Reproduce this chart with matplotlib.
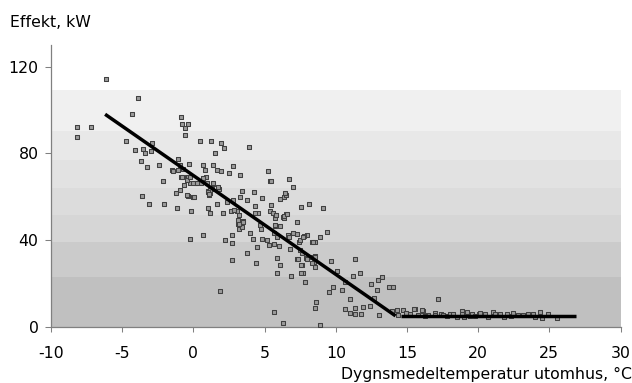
import matplotlib
matplotlib.use("Agg")
import matplotlib.pyplot as plt

# ---- data -------------------------------------------------------------
temp = [
    -8.2, -7.17, -8.2, -6.12, -3.87, -4.29,
    -4.73, -2.91, -4.12, -3.52, -3.42, -3.0, -3.68, -3.26, -2.42,
    -3.61, -3.10, -2.09, -2.16,
    -0.89, -0.80, -0.38, -0.57, -0.57,
    -1.08, -0.92, -0.33, -1.5, -1.4, -0.75, -0.43, -0.85, -1.08,
    -0.66, -0.94, -1.22,
    -1.15, -0.38, -0.05, -0.15, -0.24, 0.70,
    0.46, 1.24, 1.96, 1.52, 2.15, 3.90,
    0.70, 1.40, 0.81, 1.68, 1.96,
    -0.80, -0.40, 0.88,
    2.80, 3.27, 2.48,
    0.10, 0.51, 0.98, 0.65, 0.23, -0.24,
    1.40, 1.31, 1.78, 1.0, 1.2, 1.1,
    0.05, -0.43,
    -0.47, -0.24, -0.05, 0.23, 0.70, 0.93, 1.40, 1.75, 1.17, 1.0, 1.12,
    1.05, 1.14, 1.63, 1.87, 2.06, 2.24, 2.34, 2.64, 2.71, 2.73, 2.71,
    3.06, 3.18, 3.11, 3.22, 3.41, 3.46, 3.27, 3.43, 3.74, 3.74, 3.98, 4.21,
    4.26, 4.30, 4.37, 4.49, 4.51, 4.30, 4.70, 4.73, 4.80, 4.85, 5.15, 5.33,
    5.40, 5.38, 5.43, 5.57, 5.66, 5.66, 5.71, 5.75, 5.85, 5.89, 5.82, 6.0,
    6.08, 6.08, 6.36, 6.50, 6.08, 6.27, 6.27, 6.5, 6.64, 6.78, 6.85, 6.97,
    6.97, 7.25, 7.25, 7.30, 7.40, 7.58, 7.63, 7.72, 7.82, 7.91, 7.96, 8.10,
    8.33, 8.56, 8.19, 8.47, 8.56, 8.52, 8.61, 8.9, 8.89,
    5.24, 5.43, 6.69, 6.46, 2.80, 2.85, 6.34, 7.77,
    3.13, 3.18, 3.48, 5.61, 5.80, 5.73, 5.66, 5.85, 6.36, 6.55, 6.74,
    7.02, 7.49, 7.72, 8.38, 7.63, 7.96, 8.54, 8.33, 7.32, 7.58, 7.58,
    9.12, 9.36, 7.49, 8.54,
    9.64, 10.11, 11.38, 11.70, 11.18, 10.62, 9.83, 9.55, 10.44, 11.0,
    11.37, 11.93, 12.4, 10.67, 11.0, 11.37, 11.79, 12.5, 12.98, 13.22,
    12.87, 13.06, 13.76, 14.04, 12.68, 13.93, 14.28,
    14.70, 15.07, 15.2, 15.54, 16.1, 16.5, 16.94, 17.17, 17.37, 17.55,
    17.8, 18.02, 18.25, 18.5, 18.84, 18.9, 19.0, 19.19, 19.4, 19.54,
    19.8, 20.08, 20.1, 20.48, 20.7, 21.02, 21.2, 21.53, 21.8, 22.04,
    22.3, 22.47, 22.8, 23.17, 23.5, 23.87, 24.0, 24.34, 24.5, 24.92,
    25.51, 16.05, 15.51, 14.4, 14.9, 15.8, 16.3, 17.0,
]
power = [
    92.3, 92.3, 87.7, 114.4, 105.4, 98.3,
    85.5, 84.9, 81.4, 82.1, 80.1, 80.9, 76.3, 73.5, 74.5,
    60.3, 56.7, 56.7, 67.1,
    96.6, 93.4, 93.4, 91.5, 88.3,
    77.4, 74.7, 74.9, 72.3, 71.7, 72.6, 69.2, 69.1, 72.3,
    65.2, 63.1, 61.8,
    54.6, 60.3, 59.8, 53.5, 40.3, 42.3,
    85.5, 85.5, 84.9, 80.3, 82.3, 82.8,
    74.5, 74.5, 72.3, 72.3, 71.7,
    68.9, 68.9, 68.9,
    74.1, 70.1, 70.8,
    66.2, 66.4, 66.4, 68.3, 66.5, 66.5,
    65.8, 63.4, 63.7, 62.7, 61.8, 60.6,
    60.0, 60.6,
    67.7, 68.9, 66.4, 66.4, 68.5, 66.2, 66.4, 64.3, 63.1, 62.3, 61.2,
    54.6, 52.5, 56.5, 16.5, 52.5, 40.0, 57.7, 53.5, 42.3, 38.8, 30.8,
    53.5, 51.5, 47.5, 45.2, 46.0, 48.6, 60.0, 62.7, 58.5, 33.9, 43.1, 40.3,
    62.1, 55.8, 29.2, 36.9, 52.3, 52.3, 46.9, 45.2, 59.2, 40.3, 39.9, 37.5,
    67.1, 53.4, 56.1, 52.3, 38.0, 6.9, 46.5, 50.0, 31.8, 24.6, 51.5, 37.2,
    28.5, 58.9, 59.7, 60.9, 46.6, 1.8, 50.8, 51.9, 42.3, 35.7, 23.4, 64.6,
    43.4, 42.8, 48.4, 31.4, 39.1, 55.4, 28.3, 24.6, 20.6, 31.6, 42.3, 56.5,
    39.1, 39.1, 32.3, 30.0, 27.7, 8.5, 11.3, 1.0, 41.5,
    71.8, 67.4, 68.3, 61.5, 58.6, 53.8, 50.3, 42.0,
    49.2, 47.4, 48.2, 52.3, 51.4, 46.9, 43.4, 41.5, 51.1, 52.0, 41.5,
    43.4, 40.0, 41.5, 39.2, 33.9, 31.4, 32.6, 29.5, 31.1, 28.5, 24.6,
    54.6, 43.8, 35.4, 32.3,
    30.2, 25.8, 31.2, 24.6, 23.4, 20.8, 18.2, 15.9, 16.9, 12.6,
    8.6, 9.2, 9.7, 8.2, 6.5, 5.7, 5.7, 19.6, 21.5, 23.1,
    16.9, 5.3, 18.5, 18.5, 13.1, 7.2, 7.7,
    7.7, 5.9, 6.0, 8.2, 7.4, 5.5, 6.5, 12.6, 5.9, 5.4,
    5.0, 5.9, 5.9, 4.6, 7.4, 5.9, 4.6, 6.8, 5.0, 6.0,
    4.8, 5.9, 6.3, 5.9, 4.6, 6.8, 5.9, 5.9, 4.6, 5.9,
    5.0, 6.3, 5.5, 5.5, 5.9, 5.9, 4.6, 6.8, 4.2, 5.9,
    3.9, 7.7, 8.0, 5.2, 6.2, 5.3, 4.9, 5.6,
]

# fitted lines (two segments)
fit1_x = [-6.2, 14.2]
fit1_y = [98.0, 5.0]
fit2_x = [14.6, 26.9]
fit2_y = [5.0, 5.0]

# background band edges (kW) and shades
band_edges = [0, 23.1, 39.2, 51.5, 63.9, 76.9, 90.3, 109.2]
band_colors = ["#c0c0c0", "#cbcbcb", "#d6d6d6", "#dcdcdc",
               "#e2e2e2", "#e8e8e8", "#f0f0f0"]

xticks = [-10, -5, 0, 5, 10, 15, 20, 25, 30]
xticklabels = ["-10", "-5", "0", "5", "10", "15", "20", "25", "30"]
yticks = [0, 40, 80, 120]
yticklabels = ["0", "40", "80", "120"]

# ---- figure -----------------------------------------------------------
plt.rcParams["font.family"] = ["DejaVu Sans"]
FS = 11.3

fig = plt.figure(figsize=(6.32, 3.83), dpi=100)
ax = fig.add_axes([51 / 632, 1 - 326.7 / 383, (620.5 - 51) / 632, (326.7 - 44.9) / 383])

for lo, hi, c in zip(band_edges[:-1], band_edges[1:], band_colors):
    ax.axhspan(lo, hi, color=c, lw=0, zorder=0)

ax.scatter(temp, power, marker="s", s=10, facecolor="#9a9a9a",
           edgecolor="#404040", linewidth=0.75, zorder=3)
ax.plot(fit1_x, fit1_y, color="black", lw=2.5, solid_capstyle="butt", zorder=4)
ax.plot(fit2_x, fit2_y, color="black", lw=2.5, solid_capstyle="butt", zorder=4)

ax.set_xlim(-10, 30)
ax.set_ylim(0, 130)
ax.set_facecolor("none")
ax.set_xticks(xticks)
ax.set_xticklabels(xticklabels, fontsize=FS)
ax.set_yticks(yticks)
ax.set_yticklabels(yticklabels, fontsize=FS)
ax.tick_params(axis="x", direction="out", length=3.6, width=0.75,
               color="#808080", pad=10)
ax.tick_params(axis="y", direction="out", length=4, width=0.75,
               color="#808080", pad=5)
for s in ("top", "right"):
    ax.spines[s].set_visible(False)
for s in ("left", "bottom"):
    ax.spines[s].set_color("#808080")
    ax.spines[s].set_linewidth(0.9)

fig.text(10 / 632, 1 - 27 / 383, "Effekt, kW", fontsize=FS,
         ha="left", va="baseline")
fig.text(1.0, 3.5 / 383, "Dygnsmedeltemperatur utomhus, °C", fontsize=FS,
         ha="right", va="baseline")

fig.savefig("out.png", dpi=100)
